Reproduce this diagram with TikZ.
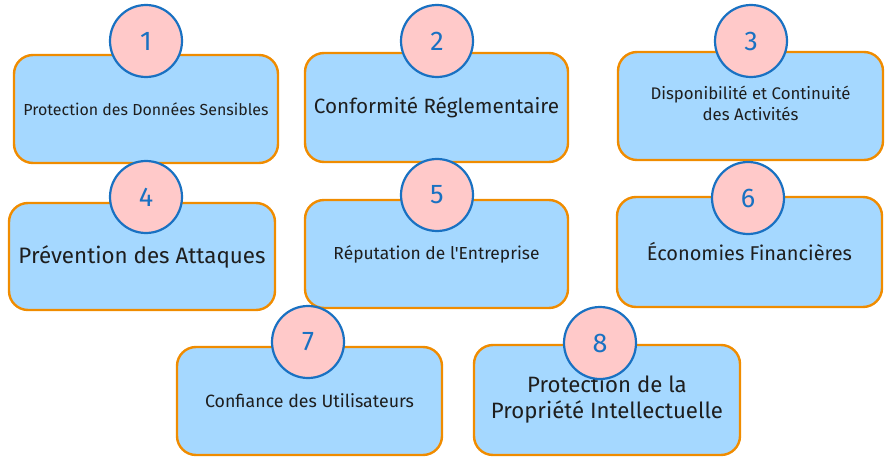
\documentclass[tikz,border=0pt]{standalone}
\usepackage{fontspec}
\setmainfont{Fira Sans}
\newfontfamily\plainfont{Fira Sans}
\usepackage{graphicx}
\definecolor{boxfill}{HTML}{A5D8FF}
\definecolor{boxline}{HTML}{F08C00}
\definecolor{circfill}{HTML}{FFC9C9}
\definecolor{circline}{HTML}{1971C2}
\definecolor{ink}{HTML}{1E1E1E}
\newcommand{\fitline}[2]{\resizebox{#1}{!}{#2}}
\newcommand{\fittwo}[3]{\resizebox{#1}{!}{\begin{tabular}{@{}c@{}}#2\\#3\end{tabular}}}
\tikzset{
  card/.style={draw=boxline, fill=boxfill, line width=2.4pt, rounded corners=19pt,
    inner sep=0pt, text=ink, align=center},
  badge/.style={circle, draw=circline, fill=circfill, line width=2.2pt,
    minimum size=72pt, inner sep=0pt, text=circline, font=\fontsize{27}{27}\selectfont},
}
\begin{document}
\begin{tikzpicture}[x=1pt,y=-1pt]
\useasboundingbox (0,0) rectangle (893,465);
% cards
\node[card, minimum width=264pt, minimum height=108pt] (b1) at (146,109) {\fitline{245pt}{Protection des Données Sensibles}};
\node[card, minimum width=263pt, minimum height=109pt] (b2) at (436.5,107.5) {\fitline{245pt}{Conformité Réglementaire}};
\node[card, minimum width=265pt, minimum height=108pt] (b3) at (750.5,106) {\fittwo{200pt}{Disponibilité et Continuité}{des Activités}};
\node[card, minimum width=266pt, minimum height=107pt] (b4) at (142,256.5) {\fitline{247pt}{Prévention des Attaques}};
\node[card, minimum width=263pt, minimum height=108pt] (b5) at (436.5,254) {\fitline{206pt}{{\plainfont Réputation de l'Entreprise}}};
\node[card, minimum width=265pt, minimum height=110pt] (b6) at (749.5,252) {\fitline{205pt}{Économies Financières}};
\node[card, minimum width=265pt, minimum height=108pt] (b7) at (309.5,401) {\fitline{209pt}{Confiance des Utilisateurs}};
\node[card, minimum width=266pt, minimum height=110pt] (b8) at (607,400) {\fittwo{232pt}{Protection de la}{Propriété Intellectuelle}};
% badges
\node[badge] (c1) at (146,41) {1};
\node[badge] (c2) at (437,41) {2};
\node[badge] (c3) at (751,41) {3};
\node[badge] (c4) at (146,197) {4};
\node[badge] (c5) at (437,195) {5};
\node[badge] (c6) at (748,198) {6};
\node[badge] (c7) at (308,342) {7};
\node[badge] (c8) at (600,343) {8};
\end{tikzpicture}
\end{document}
